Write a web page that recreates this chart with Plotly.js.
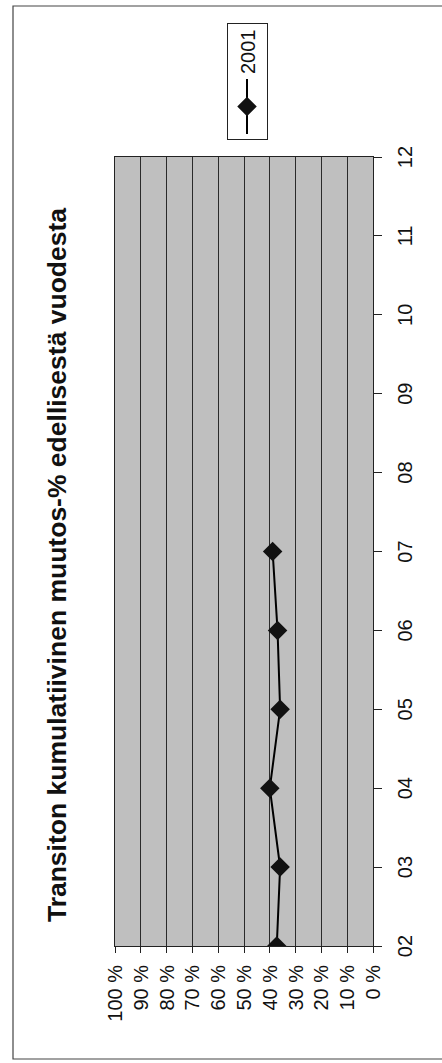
<!DOCTYPE html>
<html>
<head>
<meta charset="utf-8">
<script src="https://cdn.plot.ly/plotly-3.0.1.min.js"></script>
<style>
html,body{margin:0;padding:0;background:#fff;width:442px;height:1063px;overflow:hidden;}
#wrap{position:absolute;left:0;top:1063px;width:1063px;height:442px;transform-origin:0 0;transform:rotate(-90deg);}
#chart{width:1063px;height:442px;}
</style>
</head>
<body>
<div id="wrap"><div id="chart"></div></div>
<script>
// Data
const monthLabels = ["02","03","04","05","06","07","08","09","10","11","12"];
const seriesName = "2001";
const seriesMonths = ["02","03","04","05","06","07"];
const seriesValues = [37.3, 36.0, 40.0, 36.0, 37.0, 38.9];
const percentTicks = [0,10,20,30,40,50,60,70,80,90,100];
const percentTickLabels = ["0 %","10 %","20 %","30 %","40 %","50 %","60 %","70 %","80 %","90 %","100 %"];
const titleText = "Transiton kumulatiivinen muutos-% edellisestä vuodesta";

const FONT = "Liberation Sans, Arial, sans-serif";

const trace = {
  x: seriesMonths,
  y: seriesValues,
  name: seriesName,
  type: "scatter",
  mode: "lines+markers",
  line: {color: "#000", width: 2},
  marker: {symbol: "diamond", size: 15, color: "#111"}
};

const layout = {
  width: 1063, height: 442,
  margin: {l: 117, r: 157, t: 115, b: 69},
  paper_bgcolor: "#fff",
  plot_bgcolor: "#bfbfbf",
  font: {family: FONT, color: "#111", size: 20},
  title: {
    text: "<b>" + titleText + "</b>",
    font: {family: FONT, size: 26.5, color: "#111"},
    xref: "container", yref: "container",
    x: 0.4685, y: 1 - 57/442, xanchor: "center", yanchor: "middle"
  },
  xaxis: {
    type: "category",
    categoryorder: "array",
    categoryarray: monthLabels,
    range: [0, monthLabels.length - 1],
    showgrid: false,
    showline: true, linecolor: "#222", linewidth: 1, mirror: true,
    ticks: "outside", ticklen: 8, tickcolor: "#222",
    ticklabelstandoff: 6,
    tickfont: {size: 20, family: FONT},
    zeroline: false
  },
  yaxis: {
    range: [0, 100],
    tickvals: percentTicks,
    ticktext: percentTickLabels,
    showgrid: true, gridcolor: "#2a2a2a", gridwidth: 1,
    showline: true, linecolor: "#222", linewidth: 1, mirror: true,
    ticks: "outside", ticklen: 6, tickcolor: "#222",
    ticklabelstandoff: 8,
    tickfont: {size: 20, family: FONT},
    zeroline: false
  },
  showlegend: true,
  legend: {
    x: (923-117)/789, y: (373-247)/258,
    xanchor: "left", yanchor: "middle",
    bordercolor: "#222", borderwidth: 1,
    bgcolor: "#fff",
    itemwidth: 55,
    font: {size: 20, family: FONT}
  },
  shapes: [{
    type: "rect", xref: "paper", yref: "paper",
    x0: (4-117)/789, x1: (1057-117)/789,
    y0: (373-460)/258, y1: (373-13)/258,
    line: {color: "#444", width: 1.2}, fillcolor: "rgba(0,0,0,0)", layer: "below"
  }]
};

Plotly.newPlot("chart", [trace], layout, {displayModeBar: false, staticPlot: true});
</script>
</body>
</html>
